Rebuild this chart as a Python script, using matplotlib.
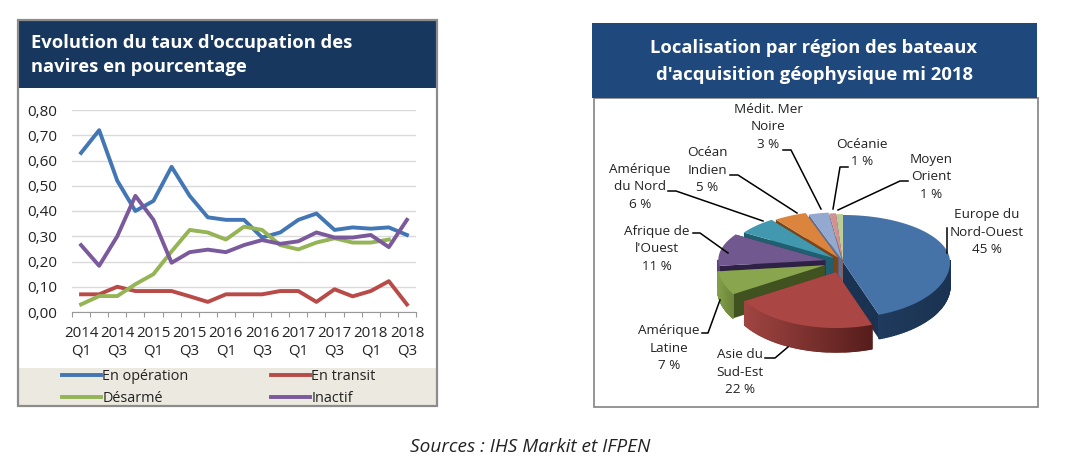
"""
Vessel occupancy rates and regional split of geophysical vessels, mid 2018.
The 3D pie takes its geometry from ax.pie, then is redrawn with perspective and side walls.
"""

import numpy as np
import matplotlib
matplotlib.use("Agg")
import matplotlib.pyplot as plt
from matplotlib.colors import to_rgb
from matplotlib.patches import Rectangle, Polygon

W, H = 1066, 470

quarters = ["2014\nQ1", "", "2014\nQ3", "", "2015\nQ1", "", "2015\nQ3", "", "2016\nQ1", "",
            "2016\nQ3", "", "2017\nQ1", "", "2017\nQ3", "", "2018\nQ1", "", "2018\nQ3"]
operation = [.63, .72, .52, .40, .44, .575, .46, .375, .365, .365, .295, .315, .365, .39, .325, .335, .33, .335, .305]
transit = [.07, .07, .10, .083, .083, .083, .062, .04, .07, .07, .07, .083, .083, .04, .09, .062, .083, .122, .03]
desarme = [.03, .063, .063, .11, .15, .24, .325, .315, .287, .338, .325, .265, .248, .275, .292, .275, .275, .287, np.nan]
inactif = [.265, .183, .30, .46, .365, .195, .237, .247, .237, .265, .285, .27, .28, .315, .295, .295, .305, .257, .365]

regions = ["Europe du\nNord-Ouest", "Asie du\nSud-Est", "Amérique\nLatine", "Afrique de\nl'Ouest",
           "Amérique\ndu Nord", "Océan\nIndien", "Médit. Mer\nNoire", "Océanie", "Moyen\nOrient"]
shares = [45, 22, 7, 11, 6, 5, 3, 1, 1]
top_colors = ["#4572a7", "#aa4643", "#89a54e", "#71588f", "#4198af", "#db843d", "#93a9cf", "#d19392", "#b9cd96"]
face_colors = ["#1b3352", "#5e2423", "#3f5220", "#2f2145", "#1f5f70", "#7a451a", "#5d7099", "#8a5a59", "#75885a"]
wall_left = ["#1f3a5c", "#a04542", "#84a04a", "#5a4474", "#2c7488", "#a9652c", "#7488ad", "#a87574", "#95a878"]
wall_right = ["#1b3352", "#561d1b", "#6d863b", "#5a4474", "#2c7488", "#a9652c", "#7488ad", "#a87574", "#95a878"]

plt.rcParams["font.family"] = ["Open Sans", "DejaVu Sans"]
TXT = "#222222"

fig = plt.figure(figsize=(W / 100, H / 100), dpi=100, facecolor="white")


def px_axes(x0, y0, x1, y1, **kw):
    return fig.add_axes([x0 / W, 1 - y1 / H, (x1 - x0) / W, (y1 - y0) / H], **kw)


# background layer in pixel coordinates
bg = px_axes(0, 0, W, H)
bg.set_xlim(0, W)
bg.set_ylim(H, 0)
bg.axis("off")

# left panel
bg.add_patch(Rectangle((18, 20), 419, 386, fc="white", ec="none"))
bg.add_patch(Rectangle((18, 20), 419, 68, fc="#17375e", ec="none"))
bg.add_patch(Rectangle((18, 368), 419, 38, fc="#ece9e0", ec="none"))
bg.add_patch(Rectangle((18, 20), 419, 386, fc="none", ec="#8c8c8c", lw=1.6))
bg.text(31, 43, "Evolution du taux d'occupation des", color="white", fontsize=13.2,
        fontweight="bold", va="center", family="Open Sans")
bg.text(31, 67, "navires en pourcentage", color="white", fontsize=13.2,
        fontweight="bold", va="center", family="Open Sans")

# line chart
ax = px_axes(72, 110, 416, 312)
x = np.arange(len(quarters))
ax.plot(x, operation, color="#4376b4", lw=2.8, label="En opération")
ax.plot(x, transit, color="#b84a47", lw=2.8, label="En transit")
ax.plot(x, desarme, color="#94b455", lw=2.8, label="Désarmé")
ax.plot(x, inactif, color="#7a5a9c", lw=2.8, label="Inactif")
ax.set_xlim(-0.5, len(quarters) - 0.5)
ax.set_ylim(0, 0.8)
ax.set_yticks(np.arange(0, 0.81, 0.1))
ax.set_yticklabels([f"{v:.2f}".replace(".", ",") for v in np.arange(0, 0.81, 0.1)],
                   fontsize=11, color=TXT)
ax.tick_params(axis="y", length=0, pad=10.5)
ax.set_xticks(np.arange(len(quarters) + 1) - 0.5)
ax.set_xticklabels([""] * (len(quarters) + 1))
ax.tick_params(axis="x", direction="out", length=3.5, color="#999999")
for xi, lab in zip(x, quarters):
    if lab:
        ax.annotate(lab, (xi, 0), xytext=(0, -10), textcoords="offset points", ha="center",
                    va="top", fontsize=10.8, color=TXT, linespacing=1.25, annotation_clip=False)
ax.grid(axis="y", color="#dadada", lw=1)
ax.set_axisbelow(True)
for s in ["top", "right", "left"]:
    ax.spines[s].set_visible(False)
ax.spines["bottom"].set_color("#999999")
ax.patch.set_alpha(0)

handles, labels = ax.get_legend_handles_labels()
order = [0, 2, 1, 3]
fig.legend([handles[i] for i in order], [labels[i] for i in order], ncol=2,
           loc="center", bbox_to_anchor=(219 / W, 1 - 387.5 / H), frameon=False,
           fontsize=10.4, handlelength=2.66, handletextpad=0.1, columnspacing=5.75,
           labelspacing=0.45, labelcolor=TXT)

# right panel
bg.add_patch(Rectangle((594, 98), 444, 309, fc="white", ec="#8c8c8c", lw=1.3))
bg.add_patch(Rectangle((592, 23), 445, 75, fc="#1f497d", ec="none"))
bg.text(814, 48, "Localisation par région des bateaux", color="white", fontsize=13.2,
        fontweight="bold", ha="center", va="center", family="Open Sans")
bg.text(814, 75, "d'acquisition géophysique mi 2018", color="white", fontsize=13.3,
        fontweight="bold", ha="center", va="center", family="Open Sans")

# 3D pie: geometry from ax.pie, centre at px (843, 262)
RX, RY, DEPTH = 107.0, 52.0, 24.0
BACK, FRONT = 47.0 / RY, 56.0 / RY
pie = px_axes(843 - RX * 1.25, 262 - RY * 1.25, 843 + RX * 1.25, 262 + RY * 1.25)
explode = [0.0, 0.19, 0.18, 0.17, 0.12, 0.10, 0.06, 0.04, 0.02]
wedges, _ = pie.pie(shares, colors=top_colors, startangle=90, counterclock=False,
                    explode=explode, radius=1.0)
pie.set_aspect("auto")
pie.set_xlim(-1.25, 1.25)
pie.set_ylim(-1.25, 1.25)
pie.patch.set_alpha(0)
d = DEPTH / RY


def warp(y):
    # back half of the disc is foreshortened against the front half
    y = np.asarray(y, dtype=float)
    return np.where(y > 0, y * BACK, y * FRONT)


# painter's order: back slices first, red and blue last
rank = [7, 8, 6, 5, 4, 3, 2, 1, 0]
for i, w in enumerate(wedges):
    w.set_visible(False)
    z = 2 + rank[i] * 2
    cx, cy = w.center
    t1, t2 = np.deg2rad(w.theta1), np.deg2rad(w.theta2)
    t = np.linspace(t1, t2, 160)
    xs = cx + w.r * np.cos(t)
    ys = warp(cy + w.r * np.sin(t))
    ax0, ay0 = cx, float(warp(cy))

    # cut faces
    for xe, ye in ((xs[0], ys[0]), (xs[-1], ys[-1])):
        pts = [(ax0, ay0), (xe, ye), (xe, ye - d), (ax0, ay0 - d)]
        pie.add_patch(Polygon(pts, fc=face_colors[i], ec="none", zorder=z, clip_on=False))

    # outer wall in small strips so it can carry a shade
    front = np.sin(t) * w.r + cy < 0.05
    idx = np.where(front)[0]
    c0, c1 = np.array(to_rgb(wall_left[i])), np.array(to_rgb(wall_right[i]))
    for a, b in zip(idx[:-1], idx[1:]):
        if b != a + 1:
            continue
        f = np.clip((xs[a] - xs[idx].min()) / max(np.ptp(xs[idx]), 1e-6), 0, 1)
        shade = tuple(c0 + (c1 - c0) * f)
        pts = [(xs[a], ys[a]), (xs[b], ys[b]), (xs[b], ys[b] - d), (xs[a], ys[a] - d)]
        pie.add_patch(Polygon(pts, fc=shade, ec=shade, lw=1.0, zorder=z + 0.5, clip_on=False))

    # top face
    pts = np.r_[[(ax0, ay0)], np.c_[xs, ys]]
    pie.add_patch(Polygon(pts, fc=top_colors[i], ec="none", zorder=z + 1, clip_on=False))

# labels
label_pos = [(987, 232), (740, 372), (669, 348), (657, 249), (640, 187), (707, 170), (768, 127), (862, 153), (931, 177)]
for name, sh, (lx, ly) in zip(regions, shares, label_pos):
    bg.text(lx, ly, f"{name}\n{sh} %", fontsize=9.7, color=TXT, ha="center", va="center",
            linespacing=1.45)

leader_ax = px_axes(0, 0, W, H)
leader_ax.set_xlim(0, W)
leader_ax.set_ylim(H, 0)
leader_ax.axis("off")
leaders = [
    [(947, 228), (947, 253)],
    [(765, 358), (775, 358), (788, 347)],
    [(702, 333), (708, 333), (720, 300)],
    [(693, 233), (700, 233), (728, 253)],
    [(668, 191), (676, 191), (763, 221)],
    [(730, 175), (738, 175), (797, 213)],
    [(783, 150), (791, 150), (821, 209)],
    [(848, 167), (840, 167), (833, 209)],
    [(908, 181), (900, 181), (838, 210)],
]
for pts in leaders:
    xs, ys = zip(*pts)
    leader_ax.plot(xs, ys, color="black", lw=1.1)

bg.text(530, 447, "Sources : IHS Markit et IFPEN", fontsize=13.7, style="italic", color=TXT,
        ha="center", va="center")

fig.savefig("out.png", dpi=100)
